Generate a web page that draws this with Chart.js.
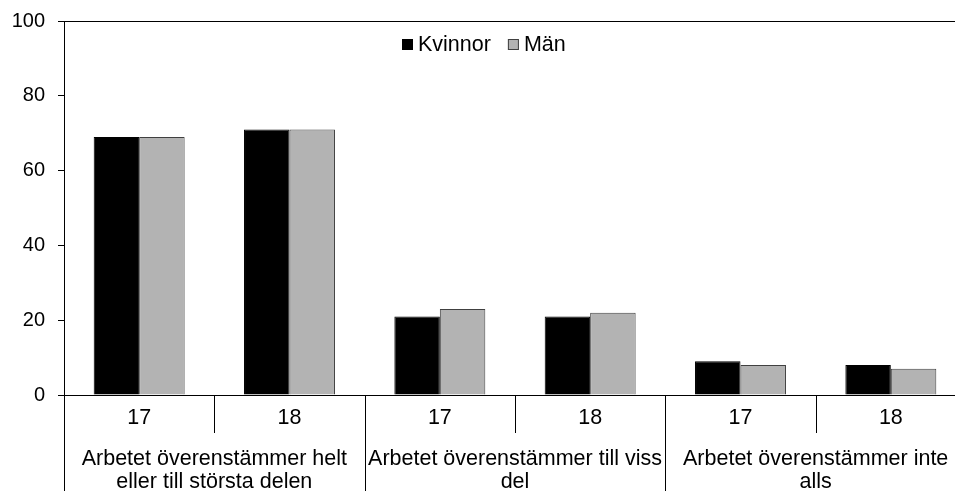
<!DOCTYPE html>
<html>
<head>
<meta charset="utf-8">
<script src="https://cdn.jsdelivr.net/npm/chart.js@4.4.1/dist/chart.umd.min.js"></script>
<style>
  html, body { margin: 0; padding: 0; background: #fff; overflow: hidden; }
  #wrap { width: 980px; height: 491px; position: relative; }
</style>
</head>
<body>
<div id="wrap"><canvas id="chart" width="980" height="491"></canvas></div>
<script>
// year labels under each pair of bars
const years = ['17', '18', '17', '18', '17', '18'];
// category labels, one per pair of years, already split into lines
const groups = [
  ['Arbetet överenstämmer helt', 'eller till största delen'],
  ['Arbetet överenstämmer till viss', 'del'],
  ['Arbetet överenstämmer inte', 'alls']
];
const kvinnor = [69, 71, 21, 21, 9, 8];
const man = [69, 71, 23, 22, 8, 7];
const yMax = 100;
const yStep = 20;

const FONT = 'Liberation Sans, Arial, sans-serif';
const LABEL_SIZE = 21.5;
const TICK_SIZE = 20;

// axis decorations, two-level x labels and the in-plot legend
const decorations = {
  id: 'decorations',
  afterDraw(chart) {
    const ctx = chart.ctx;
    const area = chart.chartArea;
    const x = chart.scales.x;
    const half = (x.getPixelForValue(1) - x.getPixelForValue(0)) / 2;
    ctx.save();
    ctx.strokeStyle = '#000';
    ctx.lineWidth = 1;

    // top frame line
    ctx.beginPath();
    ctx.moveTo(area.left, area.top + 0.5);
    ctx.lineTo(chart.width, area.top + 0.5);
    ctx.stroke();

    // separators: short ones between years, long ones between groups
    for (let i = 0; i <= years.length; i++) {
      const px = Math.round(x.getPixelForValue(i) - half) + 0.5;
      const end = i % 2 === 0 ? chart.height : area.bottom + 38;
      ctx.beginPath();
      ctx.moveTo(px, area.bottom);
      ctx.lineTo(px, end);
      ctx.stroke();
    }

    ctx.fillStyle = '#000';
    ctx.font = LABEL_SIZE + 'px ' + FONT;
    ctx.textAlign = 'center';
    ctx.textBaseline = 'middle';
    years.forEach((y, i) => {
      ctx.fillText(y, x.getPixelForValue(i), area.bottom + 23);
    });
    groups.forEach((lines, g) => {
      const cx = (x.getPixelForValue(g * 2) + x.getPixelForValue(g * 2 + 1)) / 2;
      lines.forEach((line, j) => {
        ctx.fillText(line, cx, area.bottom + 64 + j * 23);
      });
    });

    // legend
    ctx.textAlign = 'left';
    let lx = 402;
    const ly = 45;
    chart.data.datasets.forEach(ds => {
      ctx.fillStyle = ds.backgroundColor;
      ctx.fillRect(lx, ly - 6, 11, 11);
      ctx.strokeStyle = ds.borderColor;
      ctx.strokeRect(lx + 0.5, ly - 5.5, 10, 10);
      ctx.fillStyle = '#000';
      ctx.fillText(ds.label, lx + 16, ly);
      lx += 16 + ctx.measureText(ds.label).width + 17;
    });
    ctx.restore();
  }
};

new Chart(document.getElementById('chart'), {
  type: 'bar',
  data: {
    labels: years,
    datasets: [
      {
        label: 'Kvinnor',
        data: kvinnor,
        backgroundColor: '#000000',
        borderColor: '#000000',
        borderWidth: 1
      },
      {
        label: 'Män',
        data: man,
        backgroundColor: '#b3b3b3',
        borderColor: '#404040',
        borderWidth: 1
      }
    ]
  },
  options: {
    responsive: false,
    animation: false,
    devicePixelRatio: 1,
    datasets: {
      bar: { categoryPercentage: 0.605, barPercentage: 1.0 }
    },
    layout: { padding: { top: 21, right: 14, left: 0, bottom: 0 } },
    plugins: {
      legend: { display: false },
      tooltip: { enabled: false }
    },
    scales: {
      x: {
        grid: { display: false },
        border: { display: true, color: '#000', width: 1 },
        ticks: { display: false },
        afterFit: function(scale) { scale.height = 96; }
      },
      y: {
        min: 0,
        max: yMax,
        ticks: {
          stepSize: yStep,
          color: '#000',
          padding: 13,
          font: { family: FONT, size: TICK_SIZE }
        },
        grid: { display: true, drawOnChartArea: false, tickLength: 6, color: '#000' },
        border: { display: true, color: '#000', width: 1 },
        afterFit: function(scale) {
          scale.width = 64;
          // the top label may overhang into the padding above the plot
          scale.paddingTop = 0;
          scale.paddingBottom = 0;
        }
      }
    }
  },
  plugins: [decorations]
});
</script>
</body>
</html>
